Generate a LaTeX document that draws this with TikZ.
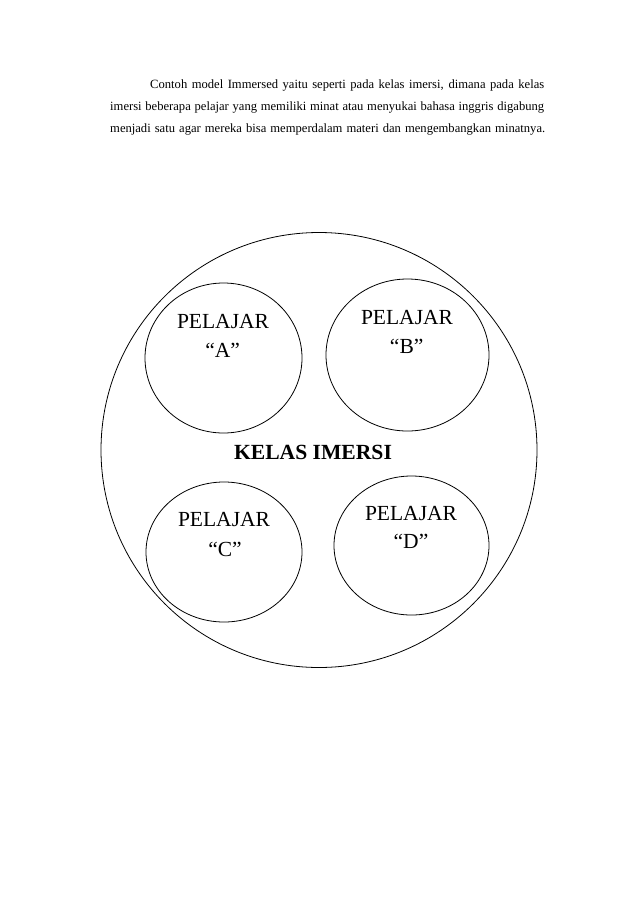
\documentclass[tikz,border=0pt]{standalone}
\usepackage{fontspec}
\setmainfont{Liberation Serif}
\usetikzlibrary{shapes.geometric}
\begin{document}
\begin{tikzpicture}[x=1pt,y=-1pt,
  ring/.style={draw=black, line width=0.8pt, ellipse, inner sep=0pt},
  lbl/.style={anchor=base, inner sep=0pt, font=\fontsize{21.5}{24}\selectfont},
  para/.style={anchor=base west, inner sep=0pt, font=\fontsize{12.6}{15}\selectfont}]
\useasboundingbox (0,0) rectangle (638,903);
% paragraph
\node[para] (l1) at (150,88) {\makebox[394pt][s]{Contoh model Immersed yaitu seperti pada kelas imersi, dimana pada kelas}};
\node[para] (l2) at (110,110) {\makebox[434pt][s]{imersi beberapa pelajar yang memiliki minat atau menyukai bahasa inggris digabung}};
\node[para] (l3) at (110,132) {\makebox[435pt][s]{menjadi satu agar mereka bisa memperdalam materi dan mengembangkan minatnya.}};
% outer circle
\node[ring, minimum width=436pt, minimum height=435pt] (kelas) at (319,450) {};
% inner ellipses
\node[ring, minimum width=157pt, minimum height=150pt] (ea) at (223.5,358) {};
\node[ring, minimum width=163pt, minimum height=152pt] (eb) at (407.5,355) {};
\node[ring, minimum width=156pt, minimum height=140pt] (ec) at (224,552) {};
\node[ring, minimum width=155pt, minimum height=139pt] (ed) at (411.5,545.5) {};
% labels
\node[lbl] (pa) at (223,328) {PELAJAR};
\node[lbl] (qa) at (222.7,357) {“A”};
\node[lbl] (pb) at (407,324) {PELAJAR};
\node[lbl] (qb) at (406.7,353) {“B”};
\node[lbl] (pc) at (224,526) {PELAJAR};
\node[lbl] (qc) at (225,556) {“C”};
\node[lbl] (pd) at (411,520) {PELAJAR};
\node[lbl] (qd) at (411,548) {“D”};
\node[anchor=base, inner sep=0pt, font=\fontsize{21.6}{24}\selectfont\bfseries] (ki) at (313,459) {KELAS IMERSI};
\end{tikzpicture}
\end{document}
